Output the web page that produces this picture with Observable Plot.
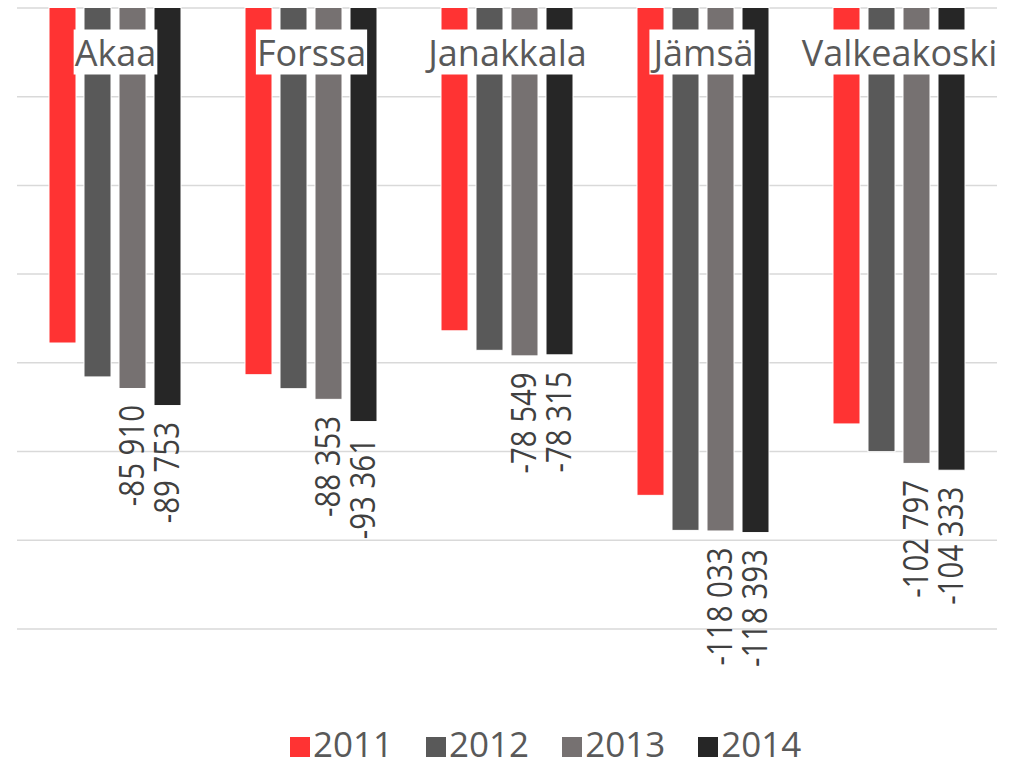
<!DOCTYPE html>
<html><head><meta charset="utf-8">
<script src="https://cdn.jsdelivr.net/npm/d3@7"></script>
<script src="https://cdn.jsdelivr.net/npm/@observablehq/plot@0.6"></script>
<style>
body{margin:0;background:#fff;font-family:"Open Sans",sans-serif;}
#wrap{position:relative;width:1017px;height:764px;background:#fff}
#legend{position:absolute;left:290px;top:726px;height:36px;font-size:35px;line-height:36px;color:#595959;white-space:nowrap}
.item{display:inline-block;margin-right:33px}
.sw{display:inline-block;width:20px;height:20px;margin-right:3px;vertical-align:baseline}
</style></head><body><div id="wrap"><div id="chart"></div><div id="legend"></div></div>
<script>
const municipalities = ["Akaa","Forssa","Janakkala","Jämsä","Valkeakoski"];
const years = ["2011","2012","2013","2014"];
const colors = ["#FF3333","#595959","#767171","#262626"];
const v2011 = [-75650,-82800,-72900,-110000,-93900];
const v2012 = [-83300,-85950,-77300,-117900,-100150];
const v2013 = [-85910,-88353,-78549,-118033,-102797];
const v2014 = [-89753,-93361,-78315,-118393,-104333];
const labelledYears = ["2013","2014"];
const yTicks = [0,-20000,-40000,-60000,-80000,-100000,-120000,-140000];

const series = [v2011, v2012, v2013, v2014];
const data = [];
municipalities.forEach((m, i) => years.forEach((yr, j) => data.push({m, year: yr, value: series[j][i]})));

const fmt = d3.formatLocale({decimal: ",", thousands: "\u00a0", grouping: [3], currency: ["", "€"], minus: "-"}).format(",d");

const plot = Plot.plot({
  width: 1017, height: 700,
  marginTop: 7.5, marginBottom: 71.6, marginLeft: 16, marginRight: 19,
  style: {fontFamily: '"Open Sans", sans-serif', background: "#fff", overflow: "visible"},
  fx: {domain: municipalities, padding: 0, axis: null, label: null},
  x: {domain: years, paddingInner: 0.23, paddingOuter: 0.858, axis: null},
  y: {domain: [-140000, 0], axis: null},
  color: {domain: years, range: colors},
  marks: [
    Plot.ruleY(yTicks, {stroke: "#d9d9d9", strokeWidth: 1.5}),
    Plot.barY(data, {fx: "m", x: "year", y: "value", fill: "year", stroke: "white", strokeWidth: 1}),
    Plot.text(data.filter(d => labelledYears.includes(d.year)), {
      fx: "m", x: "year", y: "value", text: d => fmt(d.value),
      rotate: -90, textAnchor: "end", lineAnchor: "middle", dy: 16,
      fontSize: 35, fill: "#404040"
    }),
    Plot.text(municipalities, {
      fx: d => d, text: d => d, frameAnchor: "top", lineAnchor: "bottom", dy: 57.5,
      fontSize: 36, fill: "#595959"
    })
  ]
});
document.getElementById("chart").appendChild(plot);

plot.querySelectorAll("text").forEach(t => {
  const s = t.textContent;
  if (municipalities.includes(s)) {
    // white box behind category label
    const bb = t.getBBox();
    const r = document.createElementNS("http://www.w3.org/2000/svg", "rect");
    r.setAttribute("x", bb.x - 1);
    r.setAttribute("y", bb.y + 2);
    r.setAttribute("width", bb.width + 2);
    r.setAttribute("height", bb.height - 4);
    r.setAttribute("fill", "#fff");
    if (t.getAttribute("transform")) r.setAttribute("transform", t.getAttribute("transform"));
    t.parentNode.insertBefore(r, t);
  } else if (/\d/.test(s)) {
    // condense rotated value labels along their reading direction
    t.setAttribute("transform", (t.getAttribute("transform") || "") + " scale(0.84,1)");
  }
});

// legend
const legend = document.getElementById("legend");
years.forEach((yr, i) => {
  const item = document.createElement("span");
  item.className = "item";
  const sw = document.createElement("span");
  sw.className = "sw";
  sw.style.background = colors[i];
  item.appendChild(sw);
  item.appendChild(document.createTextNode(yr));
  legend.appendChild(item);
});
</script></body></html>
